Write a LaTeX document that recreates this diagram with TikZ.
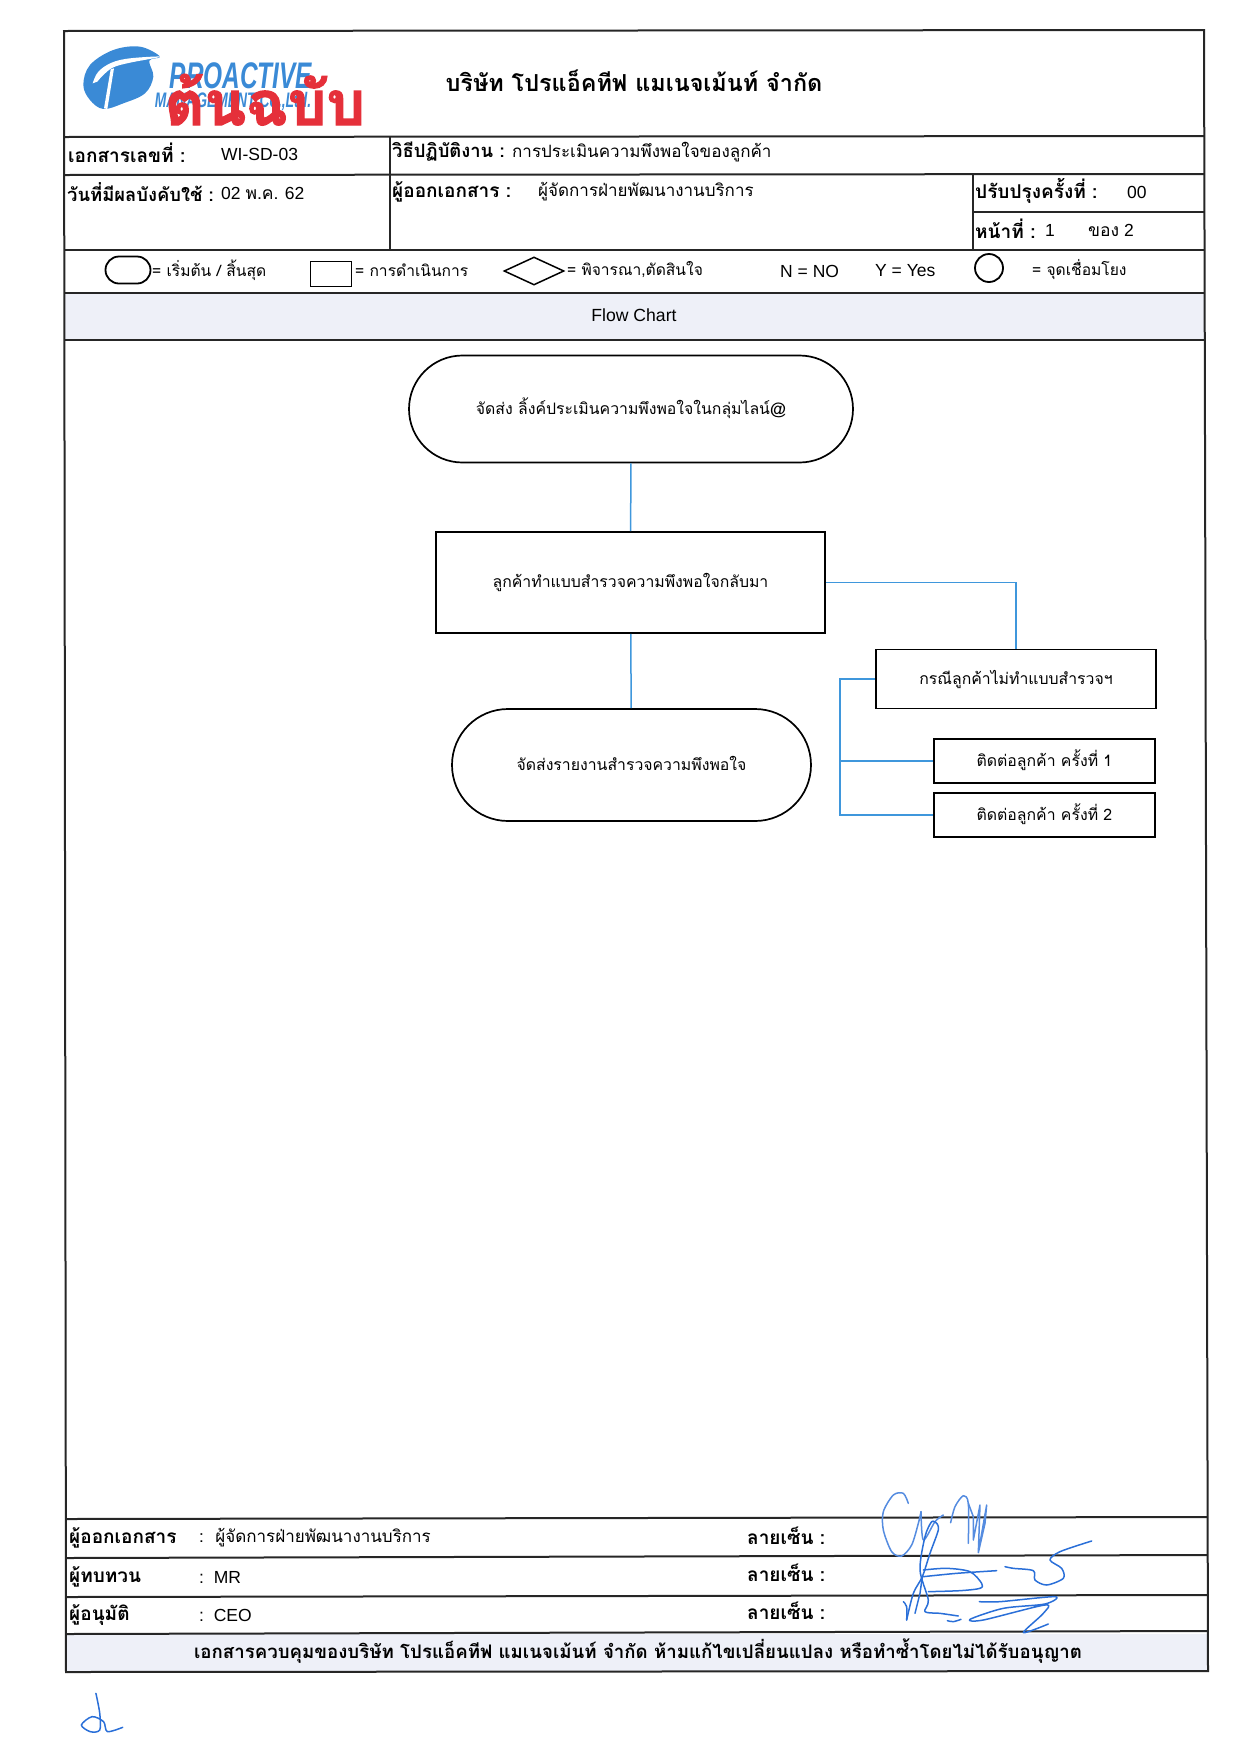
\documentclass[tikz,border=0pt]{standalone}
\usepackage{fontspec}
\setmainfont{Liberation Sans}
\newfontfamily\thaifont[Script=Thai]{Loma}
\newfontfamily\stampfont[Script=Thai,BoldFeatures={FakeBold=2}]{Loma}
\newfontfamily\logofont[FakeStretch=0.66]{Liberation Sans}
\usetikzlibrary{shapes.misc,shapes.geometric}
\definecolor{bandgrey}{HTML}{EEF0F8}
\definecolor{linkblue}{HTML}{3F97DC}
\definecolor{penblue}{HTML}{2A6FD8}
\definecolor{logoblue}{HTML}{3A8AD6}
\definecolor{stampred}{HTML}{E5303A}
\begin{document}
\begin{tikzpicture}[
		x=1pt,y=-1pt,
		rule/.style={line width=2pt,black!85},
		pillbox/.style={
			draw,
			rounded rectangle,
			line width=1.7pt,
			inner sep=0pt,
			text height=14pt,
			text depth=4pt,
			font=\thaifont\fontsize{15.8}{19}\selectfont
		},
		procbox/.style={
			draw,
			rectangle,
			line width=1.9pt,
			inner sep=0pt,
			text height=14pt,
			text depth=4pt,
			font=\thaifont\fontsize{15.8}{19}\selectfont
		},
		link/.style={linkblue, line width=1.5pt},
		lab/.style={anchor=west, inner sep=0pt, font=\thaifont\fontsize{17}{20}\selectfont},
		keylab/.style={anchor=west, inner sep=0pt, font=\thaifont\fontsize{15.6}{19}\selectfont},
		labb/.style={anchor=west, inner sep=0pt, font=\thaifont\bfseries\fontsize{19}{22}\selectfont},
		lat/.style={anchor=west, inner sep=0pt, font=\fontsize{17.5}{20}\selectfont},
		pen/.style={penblue, line width=1.5pt, line cap=round, line join=round}
		]
		\useasboundingbox (0,0) rectangle (1240,1754);
		
		% Bands
		\fill[bandgrey] (64,293) rectangle (1205,340);
		\fill[bandgrey] (66,1634) rectangle (1207,1672);
		
		% Frame
		\draw[rule] (64,31) -- (1204,30) -- (1208,1671) -- (66,1672) -- cycle;
		\draw[rule] (64,137) -- (1204,136);
		\draw[rule] (64,175) -- (1204,174);
		\draw[rule] (64,250) -- (1205,250);
		\draw[rule] (64,293) -- (1205,293);
		\draw[rule] (65,340) -- (1205,340);
		\draw[rule] (390,137) -- (390,250);
		\draw[rule] (973,174) -- (973,250);
		\draw[rule] (973,212) -- (1205,212);
		\draw[rule] (66,1519) -- (1207,1517);
		\draw[rule] (66,1558) -- (1207,1555);
		\draw[rule] (66,1597) -- (1207,1595);
		\draw[rule] (66,1634) -- (1207,1631);
		
		% Logo
		\begin{scope}[shift={(70,40)},x=.3333pt,y=-.3333pt]
			\fill[logoblue] plot[smooth cycle,tension=.6] coordinates {(40,135) (60,75) (130,30) (210,20) (270,50) (238,62) (250,110) (225,160) (160,190) (100,207) (60,180)};
			\fill[white] plot[smooth,tension=.6] coordinates {(68,130) (85,95) (125,68) (180,55) (272,50) (180,68) (130,82) (100,105) (82,125)} -- cycle;
			\fill[white] (122,88) -- (132,85) -- (112,207) -- (102,205) -- cycle;
		\end{scope}
		\node[text=logoblue, inner sep=0pt, font=\logofont\bfseries\itshape\fontsize{37}{37}\selectfont] (logoName) at (241,76) {PROACTIVE};
		\node[text=logoblue, inner sep=0pt, font=\logofont\bfseries\itshape\fontsize{21}{21}\selectfont] (logoSub) at (233,102) {MANAGEMENT Co.,Ltd.};
		\node[text=stampred, anchor=base, inner sep=0pt, font=\stampfont\bfseries\fontsize{61}{61}\selectfont] (stamp) at (265,125) {ต้นฉบับ};
		
		% Header
		\node[inner sep=0pt, font=\thaifont\bfseries\fontsize{23.4}{26}\selectfont] (company) at (634,81) {บริษัท โปรแอ็คทีฟ แมเนจเม้นท์ จำกัด};
		\node[labb] (docNoLab) at (68,153) {เอกสารเลขที่ :};
		\node[lat] (docNo) at (221,154) {WI-SD-03};
		\node[labb, font=\thaifont\bfseries\fontsize{18.4}{22}\selectfont] (wiLab) at (392,152) {วิธีปฏิบัติงาน :};
		\node[lab] (wi) at (512,152) {การประเมินความพึงพอใจของลูกค้า};
		\node[labb, font=\thaifont\bfseries\fontsize{18.4}{22}\selectfont] (dateLab) at (67,192) {วันที่มีผลบังคับใช้ :};
		\node[lat] (date) at (221,193) {02 {\thaifont พ.ค.} 62};
		\node[labb] (issuerLab) at (392,192) {ผู้ออกเอกสาร :};
		\node[lab] (issuer) at (538,192) {ผู้จัดการฝ่ายพัฒนางานบริการ};
		\node[labb] (revLab) at (975,191) {ปรับปรุงครั้งที่ :};
		\node[lat] (rev) at (1127,192) {00};
		\node[labb] (pageLab) at (975,229) {หน้าที่ :};
		\node[lat] (page) at (1045,230) {1};
		\node[lat] (pageOf) at (1088,230) {{\thaifont ของ} 2};
		
		% Legend
		\node[draw, rounded rectangle, line width=1.8pt, minimum width=45pt, minimum height=27pt, inner sep=0pt] (keyPill) at (128,270) {};
		\node[keylab] (keyPillLab) at (152,270) {= เริ่มต้น / สิ้นสุด};
		\node[draw, line width=1.8pt, minimum width=41pt, minimum height=25pt, inner sep=0pt] (keyRect) at (331,274) {};
		\node[keylab] (keyRectLab) at (355,270) {= การดำเนินการ};
		\node[draw, diamond, aspect=2.2, line width=1.5pt, minimum width=60pt, minimum height=28pt, inner sep=0pt] (keyDiamond) at (534,271) {};
		\node[keylab] (keyDiamondLab) at (567,270) {= พิจารณา,ตัดสินใจ};
		\node[lat] (keyNo) at (780,271) {N = NO};
		\node[lat] (keyYes) at (875,271) {Y = Yes};
		\node[draw, circle, line width=1.8pt, minimum size=28pt, inner sep=0pt] (keyCircle) at (989,268) {};
		\node[keylab] (keyCircleLab) at (1032,270) {= จุดเชื่อมโยง};
		\node[inner sep=0pt, font=\fontsize{17.6}{20}\selectfont] (flowTitle) at (634,315) {Flow Chart};
		
		% Flow
		\node[pillbox, minimum width=444pt, minimum height=107pt] (send) at (631,409) {จัดส่ง ลิ้งค์ประเมินความพึงพอใจในกลุ่มไลน์@};
		\node[procbox, minimum width=389pt, minimum height=101pt] (survey) at (630.5,582.5) {ลูกค้าทำแบบสำรวจความพึงพอใจกลับมา};
		\node[pillbox, minimum width=359pt, minimum height=112pt] (report) at (631.5,765) {จัดส่งรายงานสำรวจความพึงพอใจ};
		\node[procbox, minimum width=280pt, minimum height=59pt] (noreply) at (1016,679) {กรณีลูกค้าไม่ทำแบบสำรวจฯ};
		\node[procbox, minimum width=221pt, minimum height=44pt] (callOne) at (1044.5,761) {ติดต่อลูกค้า ครั้งที่ 1};
		\node[procbox, minimum width=221pt, minimum height=44pt] (callTwo) at (1044.5,815) {ติดต่อลูกค้า ครั้งที่ 2};
		\coordinate (busEnd) at (840,815);
		
		\draw[link] (send) -- (survey);
		\draw[link] (survey) -- (report);
		\draw[link] (survey.east) -| (noreply.north);
		\draw[link] (noreply.west) -| (busEnd) -- (callTwo.west);
		\draw[link] (callOne.west) -- (callOne.west -| busEnd);
		
		% Sign-off
		\node[labb] (issuedLab) at (69,1538) {ผู้ออกเอกสาร};
		\node[lab] (issued) at (199,1538) {:\ \ ผู้จัดการฝ่ายพัฒนางานบริการ};
		\node[labb] (reviewLab) at (69,1577) {ผู้ทบทวน};
		\node[lat] (review) at (199,1577) {:\ \ MR};
		\node[labb] (approveLab) at (69,1615) {ผู้อนุมัติ};
		\node[lat] (approve) at (199,1615) {:\ \ CEO};
		\node[labb] (signOne) at (747,1536) {ลายเซ็น :};
		\node[labb] (signTwo) at (747,1573) {ลายเซ็น :};
		\node[labb] (signThree) at (747,1611) {ลายเซ็น :};
		\node[inner sep=0pt, font=\thaifont\bfseries\fontsize{18.65}{22}\selectfont] (notice) at (638,1651) {เอกสารควบคุมของบริษัท โปรแอ็คทีฟ แมเนจเม้นท์ จำกัด ห้ามแก้ไขเปลี่ยนแปลง หรือทำซ้ำโดยไม่ได้รับอนุญาต};
		
		% Signatures
		\begin{scope}[shift={(860,1480)},x=.3333pt,y=-.3333pt]
			\draw[pen,penblue!80] plot[smooth] coordinates {(145,70) (130,40) (100,45) (70,95) (70,150) (95,215) (125,228) (155,195) (175,130) (183,95)};
			\draw[pen,penblue!80] plot[smooth] coordinates {(183,95) (190,180) (225,125) (250,105)};
			\draw[pen,penblue!80] plot[smooth] coordinates {(272,128) (285,80) (310,47) (325,70) (325,190)};
			\draw[pen,penblue!80] (325,70) -- (340,110) -- (340,180) (340,180) -- (360,75) -- (355,218) -- (380,75) -- (375,130) -- (355,218);
			\draw[pen] plot[smooth] coordinates {(230,130) (215,125) (195,170) (180,270) (205,360) (195,395) (240,400) (295,408)};
			\draw[pen] plot[smooth] coordinates {(230,130) (235,150) (210,220) (187,290) (160,340) (140,420)};
			\draw[pen] plot[smooth] coordinates {(130,365) (140,380) (140,420)};
			\draw[pen] (165,400) -- (180,340) -- (187,290);
			\draw[pen] plot[smooth] coordinates {(190,270) (260,265) (330,275) (365,310) (360,325) (300,332) (205,335)};
			\draw[pen] plot[smooth] coordinates {(190,290) (290,280) (410,272)};
			\draw[pen] plot[smooth] coordinates {(435,260) (460,265) (520,272) (525,300) (560,315) (610,295) (605,265) (570,240) (600,215) (695,183)};
			\draw[pen] plot[smooth] coordinates {(262,422) (280,425) (303,418)};
			\draw[pen] plot[smooth,tension=.5] coordinates {(358,365) (420,365) (585,350) (555,372) (430,385) (330,418) (370,420) (555,375) (550,400) (490,458) (565,432)};
		\end{scope}
		\begin{scope}[shift={(50,1480)},x=.3827pt,y=-.3333pt]
			\draw[pen] plot[smooth] coordinates {(120,640) (130,700) (130,750) (105,755) (82,735) (110,710) (140,725) (150,755) (190,742)};
		\end{scope}
		
	\end{tikzpicture}
\end{document}
